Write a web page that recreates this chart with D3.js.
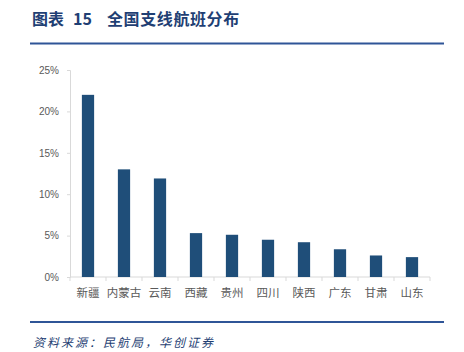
<!DOCTYPE html>
<html><head><meta charset="utf-8">
<script src="https://cdn.jsdelivr.net/npm/d3@7/dist/d3.min.js"></script>
<style>body{margin:0;background:#fff;}svg{display:block;}</style>
</head><body>
<script>
const categories = ["新疆","内蒙古","云南","西藏","贵州","四川","陕西","广东","甘肃","山东"];
const values = [22.0, 13.0, 11.9, 5.3, 5.1, 4.5, 4.2, 3.35, 2.6, 2.4];
const yTicks = [0, 5, 10, 15, 20, 25];
const titleParts = ["图表", "15", "全国支线航班分布"];
const source = "资料来源：民航局，华创证券";

const W = 464, H = 352;
const svg = d3.select("body").append("svg").attr("width", W).attr("height", H);

const titleX = [32, 73, 107];
svg.selectAll("text.title").data(titleParts).enter().append("text").attr("class", "title")
  .attr("x", (d, i) => titleX[i]).attr("y", 25)
  .attr("font-family", "'Noto Sans CJK SC'").attr("font-weight", "bold")
  .attr("font-size", 16).attr("fill", "#1f3f74")
  .attr("letter-spacing", (d, i) => i === 2 ? 0.6 : 0).text(d => d);
svg.append("rect").attr("x", 30).attr("y", 42.5).attr("width", 414).attr("height", 2).attr("fill", "#2f5597");
svg.append("rect").attr("x", 30).attr("y", 321).attr("width", 414).attr("height", 2).attr("fill", "#2f5597");
svg.append("text").attr("x", 33).attr("y", 347)
  .attr("font-family", "'Noto Sans CJK SC'").attr("font-style", "italic")
  .attr("font-size", 12).attr("fill", "#1f3f74").attr("letter-spacing", 2).text(source);

const x = d3.scaleBand().domain(categories).range([70, 430]).paddingInner(0.66).paddingOuter(0.33);
const y = d3.scaleLinear().domain([0, 25]).range([277, 70]);

const gy = svg.append("g").attr("transform", "translate(70,0)")
  .call(d3.axisLeft(y).tickValues(yTicks).tickFormat(d => d + "%").tickSize(3).tickPadding(8));
gy.select(".domain").attr("stroke", "#d9d9d9");
gy.selectAll(".tick line").attr("stroke", "#d9d9d9");
gy.selectAll("text").attr("font-family", "'Liberation Sans', Arial").attr("font-size", 10).attr("fill", "#595959");

const xb = d3.scaleBand().domain(categories).range([70, 430]);
const gx = svg.append("g").attr("transform", "translate(0,277)");
gx.append("line").attr("x1", 70).attr("x2", 430).attr("stroke", "#d9d9d9");
gx.selectAll("line.t").data(categories.concat(["__end"])).enter().append("line")
  .attr("x1", (d, i) => 70 + i * xb.bandwidth()).attr("x2", (d, i) => 70 + i * xb.bandwidth())
  .attr("y1", 0).attr("y2", 4).attr("stroke", "#d9d9d9");
gx.selectAll("text").data(categories).enter().append("text")
  .attr("x", d => xb(d) + xb.bandwidth() / 2).attr("y", 20)
  .attr("text-anchor", "middle").attr("font-family", "'Noto Sans CJK SC'")
  .attr("font-size", 11.5).attr("fill", "#595959").text(d => d);

svg.selectAll("rect.bar").data(categories).enter().append("rect").attr("class", "bar")
  .attr("x", d => x(d)).attr("width", x.bandwidth())
  .attr("y", (d, i) => y(values[i])).attr("height", (d, i) => y(0) - y(values[i]))
  .attr("fill", "#1f4e79");
</script>
</body></html>
